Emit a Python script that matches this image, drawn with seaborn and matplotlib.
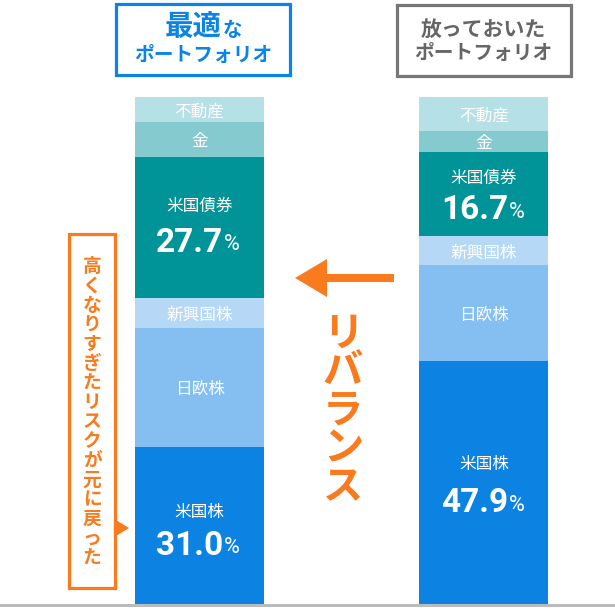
import numpy as np
import matplotlib
matplotlib.use("Agg")
import matplotlib.pyplot as plt
from matplotlib.patches import Rectangle, Polygon
import seaborn as sns

portfolios = ["最適", "放っておいた"]
segments = ["米国株", "日欧株", "新興国株", "米国債券", "金", "不動産"]
us_stocks = [31.0, 47.9]
jp_eu_stocks = [23.4, 18.9]
em_stocks = [6.0, 5.7]
us_bonds = [27.7, 16.7]
gold = [6.9, 4.1]
real_estate = [5.0, 6.7]
shown_values = {"米国株": ["31.0", "47.9"], "米国債券": ["27.7", "16.7"]}

colors = ["#0C83E2", "#85BFF2", "#B5D8F7", "#009499", "#84CACF", "#B5E0E5"]
BLUE, GREY, ORANGE = "#0A84E6", "#777777", "#F97B1E"
W, H = 615, 611
FONT = "Noto Sans CJK JP"
NUM_FONT = "Roboto"

sns.set_theme(style="white", rc={"font.family": FONT})
fig = plt.figure(figsize=(W / 100, H / 100), dpi=100, facecolor="white")
ax = fig.add_axes([0, 0, 1, 1])

series = [us_stocks, jp_eu_stocks, em_stocks, us_bonds, gold, real_estate]
bottom = np.zeros(2)
mids = []
for name, vals, col in zip(segments, series, colors):
    sns.barplot(x=portfolios, y=vals, bottom=bottom, color=col, saturation=1,
                width=0.4534, ax=ax, linewidth=0, order=portfolios)
    mids.append(bottom + np.array(vals) / 2)
    bottom = bottom + np.array(vals)

ax.set_xlim(-0.7012, 1.4605)
ax.set_ylim(-1.38, 119.13)
ax.axis("off")

# Segment labels, offset from the middle of each segment (points)
name_off = {"米国株": (9.5, 13), "米国債券": (15.5, 11)}
val_off = {"米国株": (-14.5, -15), "米国債券": (-11, -11.5)}
name_fs = 12
for seg, mid in zip(segments, mids):
    for i in range(2):
        if seg in shown_values:
            ax.annotate(seg, (i, mid[i]), xytext=(0, name_off[seg][i]), textcoords="offset points",
                        ha="center", va="center", color="white", fontsize=name_fs)
            vy = val_off[seg][i]
            ax.annotate(shown_values[seg][i], (i, mid[i]), xytext=(17.2, vy),
                        textcoords="offset points", ha="right", va="center",
                        color="white", fontsize=24, fontweight="bold", family=NUM_FONT)
            ax.annotate("%", (i, mid[i]), xytext=(17.8, vy - 1.5), textcoords="offset points",
                        ha="left", va="center", color="white", fontsize=15.5,
                        family=NUM_FONT)
        else:
            ax.annotate(seg, (i, mid[i]), xytext=(0, -1.5), textcoords="offset points",
                        ha="center", va="center", color="white", fontsize=name_fs)


def fx(x):
    return x / W


def fy(y):
    return 1 - y / H


def box(x0, y0, x1, y1, col):
    fig.add_artist(Rectangle((fx(x0), fy(y1)), (x1 - x0) / W, (y1 - y0) / H, fill=False,
                             edgecolor=col, linewidth=2.3, transform=fig.transFigure))


def ftext(x, y, s, **kw):
    fig.text(fx(x), fy(y), s, ha="center", va="center", **kw)


# Baseline
fig.add_artist(Rectangle((0, fy(606.7)), 1, 2.7 / H, facecolor="#BBBBBB", edgecolor="none",
                         transform=fig.transFigure))

# Title boxes
box(116, 4.5, 290, 75, BLUE)
ftext(193, 27, "最適", color=BLUE, fontsize=20.5, fontweight="bold")
ftext(232, 31, "な", color=BLUE, fontsize=14, fontweight="bold")
ftext(203, 55, "ポートフォリオ", color=BLUE, fontsize=14.2, fontweight="bold")

box(397, 5, 571, 76, GREY)
ftext(483, 29, "放っておいた", color="#666666", fontsize=15, fontweight="bold")
ftext(483, 53.5, "ポートフォリオ", color="#666666", fontsize=14.2, fontweight="bold")

# Orange call-out
box(69, 234, 115, 587.5, ORANGE)
fig.add_artist(Polygon([(fx(116), fy(520)), (fx(129), fy(528)), (fx(116), fy(536))],
                       closed=True, facecolor=ORANGE, edgecolor="none",
                       transform=fig.transFigure))
ftext(92, 412, "\n".join("高くなりすぎたリスクが元に戻った"), color=ORANGE, fontsize=13.5,
      fontweight="bold", linespacing=1.03)

# Rebalance arrow
fig.add_artist(Polygon([(fx(394), fy(274)), (fx(327), fy(274)), (fx(327), fy(259)),
                        (fx(295), fy(278)), (fx(327), fy(297)), (fx(327), fy(282)),
                        (fx(394), fy(282))], closed=True, facecolor=ORANGE,
                       edgecolor="none", transform=fig.transFigure))
ftext(343, 411, "\n".join("リバランス"), color=ORANGE, fontsize=29, fontweight="bold",
      linespacing=0.92)

fig.savefig("out.png", dpi=100, facecolor="white")
